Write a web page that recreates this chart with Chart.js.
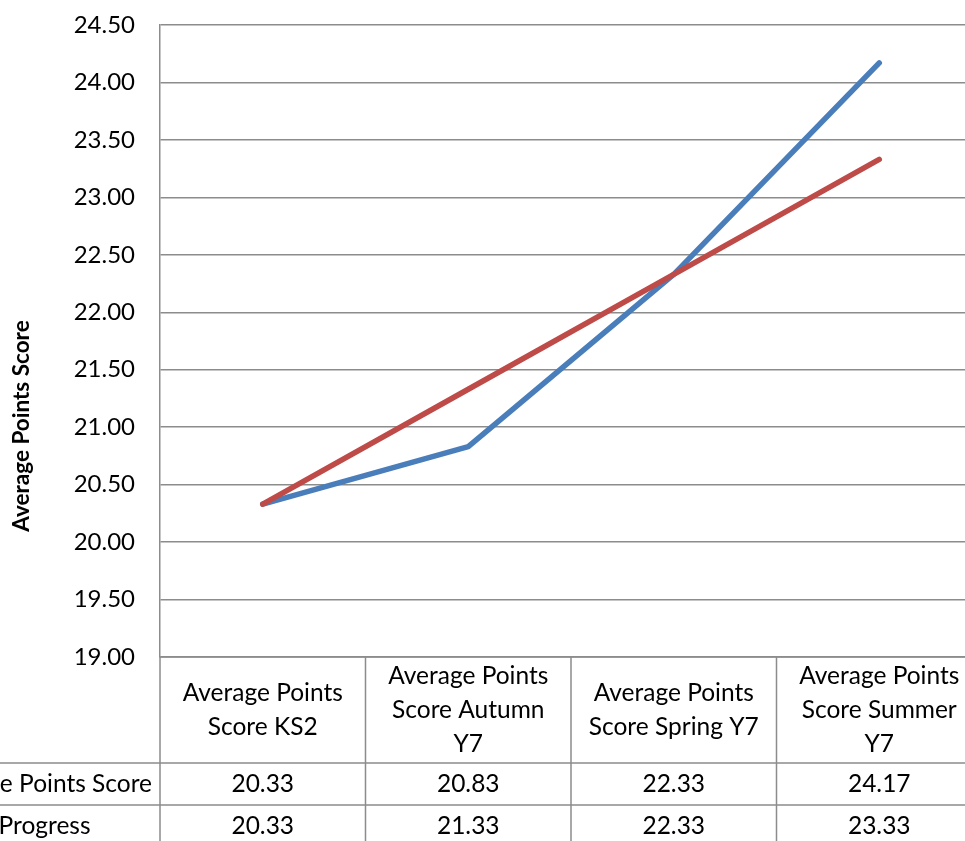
<!DOCTYPE html>
<html>
<head>
<meta charset="utf-8">
<script src="https://cdn.jsdelivr.net/npm/chart.js@4"></script>
<style>
html, body { margin: 0; padding: 0; overflow: hidden; background: #fff; }
#wrap { width: 1000px; height: 841px; }
</style>
</head>
<body>
<div id="wrap"><canvas id="myChart" width="1000" height="841"></canvas></div>
<script>
// categories (each one already split into the lines shown in the table header)
var categories = [
    ["Average Points", "Score KS2"],
    ["Average Points", "Score Autumn", "Y7"],
    ["Average Points", "Score Spring Y7"],
    ["Average Points", "Score Summer", "Y7"]
];
var seriesNames = ["Average Points Score", "Target Progress"];
var avgPointsScore = [20.33, 20.83, 22.33, 24.17];
var targetProgress = [20.33, 21.33, 22.33, 23.33];
var yMin = 19, yMax = 24.5, yStep = 0.5;

var FONT = "Lato, 'Open Sans', sans-serif";
var GRID = '#8c8c8c';

// draws the data table under the plot, using the x scale for the columns
var dataTable = {
    id: 'dataTable',
    afterDraw: function(chart) {
        var c = chart.ctx, a = chart.chartArea, xs = chart.scales.x;
        var step = (a.right - a.left) / categories.length;
        var headTop = a.bottom, headBottom = headTop + 106;
        var row1Bottom = headBottom + 42, row2Bottom = row1Bottom + 42;
        var bottom = chart.height;
        c.save();
        c.strokeStyle = GRID;
        c.lineWidth = 1.5;
        c.beginPath();
        c.moveTo(a.left, headTop); c.lineTo(a.right, headTop);
        c.moveTo(0, headBottom); c.lineTo(a.right, headBottom);
        c.moveTo(0, row1Bottom); c.lineTo(a.right, row1Bottom);
        for (var i = 0; i <= categories.length; i++) {
            var ex = a.left + i * step;
            c.moveTo(ex, headTop); c.lineTo(ex, bottom);
        }
        c.stroke();

        c.fillStyle = '#000';
        c.font = '24.5px ' + FONT;
        c.textAlign = 'center';
        c.textBaseline = 'middle';
        var lh = 34, mid = (headTop + headBottom) / 2;
        categories.forEach(function(lines, i) {
            var cx = xs.getPixelForValue(i);
            var y0 = mid - (lines.length - 1) * lh / 2;
            lines.forEach(function(t, j) { c.fillText(t, cx, y0 + j * lh); });
            c.fillText(avgPointsScore[i].toFixed(2), cx, (headBottom + row1Bottom) / 2);
            c.fillText(targetProgress[i].toFixed(2), cx, (row1Bottom + row2Bottom) / 2);
        });

        // row labels, left aligned, start lies left of the picture
        c.textAlign = 'left';
        var labelX = a.left - 8 - c.measureText(seriesNames[0]).width;
        c.fillText(seriesNames[0], labelX, (headBottom + row1Bottom) / 2);
        c.fillText(seriesNames[1], labelX, (row1Bottom + row2Bottom) / 2);

        // axis title, centred on plot + table
        c.save();
        c.font = 'bold 22.5px ' + FONT;
        c.textAlign = 'center';
        c.translate(22, (a.top + row2Bottom) / 2 - 10);
        c.rotate(-Math.PI / 2);
        c.fillText(seriesNames[0], 0, 0);
        c.restore();
        c.restore();
    }
};

var ctx = document.getElementById('myChart').getContext('2d');
var chart = new Chart(ctx, {
    type: 'line',
    data: {
        labels: categories,
        datasets: [{
            label: seriesNames[0],
            data: avgPointsScore,
            borderColor: '#4a7ebb',
            borderWidth: 5.5,
            borderCapStyle: 'round',
            borderJoinStyle: 'round',
            pointRadius: 0,
            order: 2
        }, {
            label: seriesNames[1],
            data: targetProgress,
            borderColor: '#be4b48',
            borderWidth: 5.5,
            borderCapStyle: 'round',
            borderJoinStyle: 'round',
            pointRadius: 0,
            order: 1
        }]
    },
    options: {
        responsive: false,
        animation: false,
        devicePixelRatio: 1,
        layout: { padding: { left: 0, right: 18, top: 25, bottom: 184 } },
        plugins: { legend: { display: false }, tooltip: { enabled: false } },
        scales: {
            x: { display: false, offset: true },
            y: {
                min: yMin,
                max: yMax,
                afterFit: function(scale) {
                    scale.width = 160;
                    scale.paddingTop = 0;
                    scale.paddingBottom = 0;
                },
                border: { color: GRID, width: 1.5 },
                grid: { color: GRID, lineWidth: 1.5, drawTicks: false },
                ticks: {
                    stepSize: yStep,
                    padding: 25,
                    color: '#000',
                    font: { family: FONT, size: 24 },
                    callback: function(v) { return v.toFixed(2); }
                }
            }
        }
    },
    plugins: [dataTable]
});
</script>
</body>
</html>
